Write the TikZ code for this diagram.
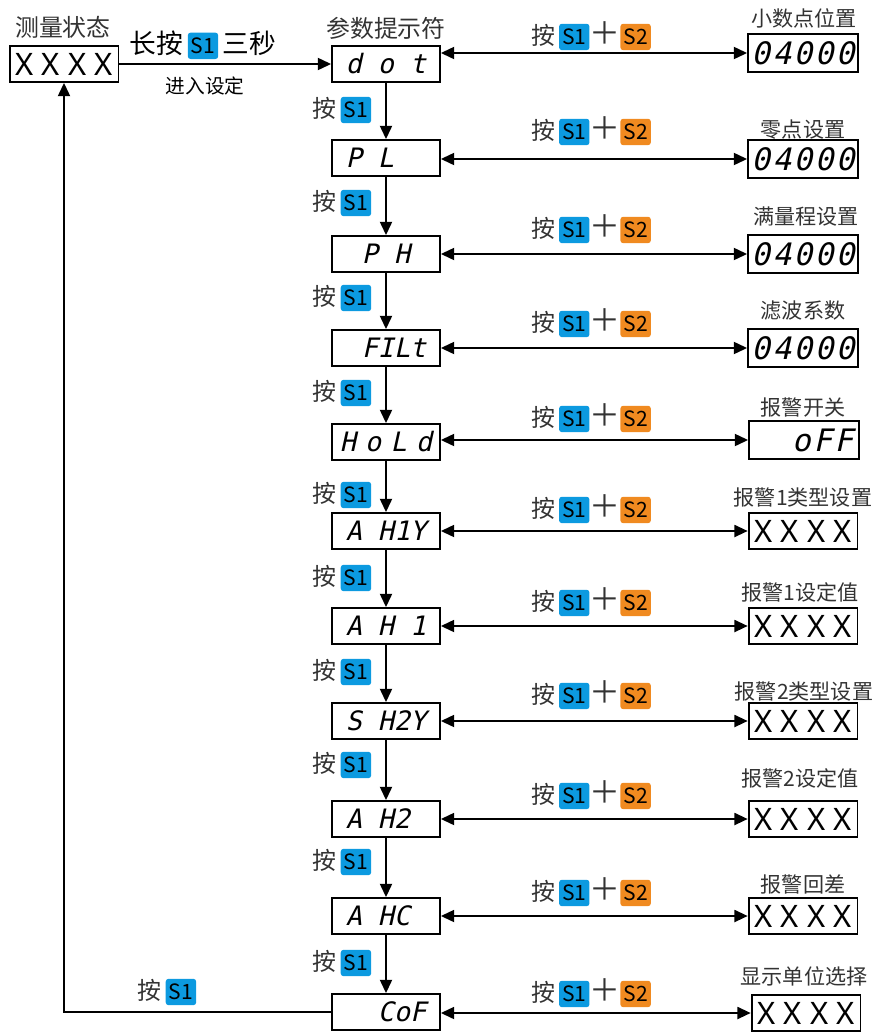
\documentclass[tikz,border=0pt]{standalone}
\usepackage{fontspec}
\usepackage{tikz}
\usetikzlibrary{arrows.meta}
\setmainfont{Noto Sans}
\newfontfamily\cjk{Noto Sans CJK SC}
\newfontfamily\segfont[FakeSlant=0.22]{DejaVu Sans Mono}
\definecolor{keyblue}{HTML}{0C9AE0}
\definecolor{keyorange}{HTML}{F08A20}
\definecolor{txtgray}{HTML}{333333}
\newcommand{\gap}{\phantom{0}}
\tikzset{keybox/.style={rounded corners=2pt, minimum width=0.76cm, minimum height=0.66cm, inner sep=0pt, text=black, font=\fontsize{15}{17}\selectfont}}
\newcommand{\keyS}[2]{\tikz[baseline=(k.base)]\node[keybox,fill=#1] (k) {#2};}
\newcommand{\sone}{\keyS{keyblue}{S1}}
\newcommand{\stwo}{\keyS{keyorange}{S2}}
\newcommand{\press}{按\,\sone}
\newcommand{\presstwo}{按\,\sone{\fontsize{22}{22}\selectfont ＋}\stwo}

\begin{document}
\begin{tikzpicture}[x=0.025cm, y=-0.025cm, line width=1.3pt,
  main/.style = {draw, minimum width=2.7cm, minimum height=0.9cm, inner sep=0pt, font=\segfont\fontsize{19}{20}\selectfont},
  val/.style = {draw, minimum width=2.75cm, minimum height=0.93cm, inner sep=0pt, font=\segfont\fontsize{22}{22}\selectfont\addfontfeature{LetterSpace=8}},
  xbox/.style = {draw, minimum width=2.72cm, minimum height=0.9cm, inner sep=0pt, font=\fontsize{22}{22}\selectfont},
  lbl/.style = {text=txtgray, inner sep=0pt, font=\cjk\fontsize{15}{18}\selectfont},
  key/.style = {lbl, font=\cjk\fontsize{17}{20}\selectfont},
  big/.style = {lbl, font=\cjk\fontsize{17}{20}\selectfont},
  arr/.style = {-{Triangle[length=0.33cm,width=0.3cm]}},
  dbl/.style = {{Triangle[length=0.33cm,width=0.3cm]}-{Triangle[length=0.33cm,width=0.3cm]}}]
\useasboundingbox (0,0) rectangle (874,1033);

% measuring state and parameter column
\node[xbox] (meas) at (64,64) {X X X X};
\node[big] (t-meas) at (63,27) {测量状态};
\node[main] (dot) at (386,64) {d o t};
\node[big] (t-dot) at (386,28) {参数提示符};
\node[main] (pl) at (386,158) {P L\gap\gap};
\node[main] (ph) at (386,254) {\gap P H\gap};
\node[main] (filt) at (386,348) {\gap FILt};
\node[main] (hold) at (386,442) {\addfontfeature{LetterSpace=35}HoLd};
\node[main] (ahiy) at (386,531) {A H1Y};
\node[main] (ah1) at (386,626) {A H 1};
\node[main] (sh2y) at (386,721) {S H2Y};
\node[main] (ah2) at (386,819) {A H2\gap};
\node[main] (ahc) at (386,916) {A HC\gap};
\node[main] (cof) at (386,1012) {\gap\gap CoF};

% values
\node[val] (v-dot) at (803,53) {04000};
\node[val] (v-pl) at (803,159) {04000};
\node[val] (v-ph) at (803,254) {04000};
\node[val] (v-filt) at (803,348) {04000};
\node[val] (v-hold) at (804,440) {\gap\gap oFF};
\node[xbox] (v-ahiy) at (803,531) {X X X X};
\node[xbox] (v-ah1) at (803,626) {X X X X};
\node[xbox] (v-sh2y) at (803,721) {X X X X};
\node[xbox] (v-ah2) at (803,819) {X X X X};
\node[xbox] (v-ahc) at (803,916) {X X X X};
\node[xbox] (v-cof) at (806,1013) {X X X X};

\node[lbl] (t-vdot) at (804,18) {小数点位置};
\node[lbl] (t-vpl) at (803,130) {零点设置};
\node[lbl] (t-vph) at (806,217) {满量程设置};
\node[lbl] (t-vfilt) at (803,311) {滤波系数};
\node[lbl] (t-vhold) at (803,407) {报警开关};
\node[lbl] (t-vahiy) at (803,497) {报警1类型设置};
\node[lbl] (t-vah1) at (800,592) {报警1设定值};
\node[lbl] (t-vsh2y) at (804,691) {报警2类型设置};
\node[lbl] (t-vah2) at (800,778) {报警2设定值};
\node[lbl] (t-vahc) at (803,884) {报警回差};
\node[lbl] (t-vcof) at (804,976) {显示单位选择};

% key labels
\node[big, text=black, font=\cjk\fontsize{19}{22}\selectfont] (k-enter) at (203,45) {长按\,\sone\,三秒};
\node[lbl, text=black, font=\cjk\fontsize{14}{16}\selectfont] (t-enter) at (205,86) {进入设定};
\foreach \n/\y in {1/110, 2/203, 3/298, 4/393, 5/495, 6/578, 7/672, 8/765, 9/862, 10/963}
  \node[key] (k\n) at (342,\y) {\press};
\node[key] (k-back) at (167,992) {\press};
\foreach \n/\y in {1/36, 2/131, 3/229, 4/323, 5/418, 6/509, 7/602, 8/695, 9/795, 10/892, 11/993}
  \node[key] (h\n) at (591,\y) {\presstwo};

% connectors
\draw[arr] (meas) -- (dot);
\foreach \a/\b in {dot/pl, pl/ph, ph/filt, filt/hold, hold/ahiy, ahiy/ah1, ah1/sh2y, sh2y/ah2, ah2/ahc, ahc/cof}
  \draw[arr] (\a) -- (\b);
\foreach \n in {dot, pl, ph, filt, hold, ahiy, ah1, sh2y, ah2, ahc, cof}
  \draw[dbl] (v-\n.west -| \n.east) -- (v-\n.west);
\draw[arr] (cof.west) -| (meas.south);
\end{tikzpicture}
\end{document}
